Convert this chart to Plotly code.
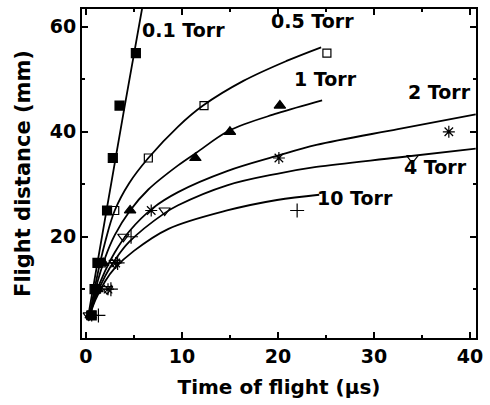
import plotly.graph_objects as go

# Measured points (time of flight in us, flight distance in mm)
p01_t = [0.6, 0.9, 1.2, 2.2, 2.8, 3.5, 5.2]
p01_d = [5, 10, 15, 25, 35, 45, 55]
p05_t = [0.5, 1.1, 1.6, 3.0, 6.5, 12.3, 25.1]
p05_d = [5, 10, 15, 25, 35, 45, 55]
p1_t = [0.5, 1.2, 1.8, 4.6, 11.4, 15.0, 20.2]
p1_d = [5, 10, 15, 25, 35, 40, 45]
p2_t = [0.6, 2.3, 3.1, 6.8, 20.1, 37.8]
p2_d = [5, 10, 15, 25, 35, 40]
p4_t = [0.3, 2.2, 3.0, 3.9, 8.2, 34.0]
p4_d = [5, 10, 15, 20, 25, 35]
p10_t = [1.3, 2.6, 3.3, 4.7, 22.0]
p10_d = [5, 10, 15, 20, 25]

# Fitted curves
f01_t = [0.25, 2.0, 4.0, 5.9]
f01_d = [5, 23.5, 44.5, 64]
f05_t = [0.4, 1.0, 2.0, 3.0, 4.5, 6.5, 9.6, 12.2, 16.4, 20.9, 24.5]
f05_d = [5, 11, 19, 25, 30.2, 35, 41, 45, 49.7, 53.5, 56.1]
f1_t = [0.4, 1.0, 2.0, 3.0, 4.6, 6.5, 9.6, 11.5, 14.9, 19.9, 24.6]
f1_d = [5, 10, 16, 20.3, 25, 29, 33.6, 36, 40.2, 43.5, 46]
f2_t = [0.4, 1.0, 2.0, 3.0, 4.5, 7.0, 9.6, 14.7, 19.9, 24, 32.5, 40.6]
f2_d = [5, 9, 13.5, 17, 21, 25.5, 28.5, 32.5, 35.4, 37.5, 40.5, 43.3]
f4_t = [0.4, 1.0, 2.0, 3.0, 4.5, 8.2, 9.6, 14.7, 19.9, 24, 32.5, 40.6]
f4_d = [5, 8.5, 12.5, 15.5, 19, 24.5, 26, 29.8, 32, 33.3, 35.1, 36.8]
f10_t = [0.4, 1.0, 2.0, 3.0, 5.0, 8.6, 14.7, 19.9, 24.3]
f10_d = [5, 8, 11.5, 14, 17.3, 21.5, 25, 27, 28]

labels = ["0.1 Torr", "0.5 Torr", "1 Torr", "2 Torr", "4 Torr", "10 Torr"]
label_x = [10.2, 23.6, 25.0, 36.8, 36.4, 28.0]
label_y = [59.4, 61.1, 50.1, 47.5, 33.2, 27.3]

FONT = "DejaVu Sans"
fig = go.Figure()

for ft, fd in [(f01_t, f01_d), (f05_t, f05_d), (f1_t, f1_d), (f2_t, f2_d), (f4_t, f4_d), (f10_t, f10_d)]:
    fig.add_trace(go.Scatter(x=ft, y=fd, mode="lines", line=dict(color="black", width=1.8, shape="spline", smoothing=1),
                             showlegend=False, hoverinfo="skip"))

markers = [
    (p01_t, p01_d, "square", 9),
    (p05_t, p05_d, "square-open", 8),
    (p1_t, p1_d, "triangle-up", 10),
    (p2_t, p2_d, "asterisk-open", 10),
    (p4_t, p4_d, "triangle-down-open", 10),
    (p10_t, p10_d, "cross-thin-open", 10),
]
for t, d, sym, sz in markers:
    fig.add_trace(go.Scatter(x=t, y=d, mode="markers",
                             marker=dict(symbol=sym, size=sz, color="black", line=dict(color="black", width=1.2)),
                             showlegend=False))

for txt, x, y in zip(labels, label_x, label_y):
    fig.add_annotation(x=x, y=y, text="<b>" + txt + "</b>", showarrow=False,
                       font=dict(family=FONT, size=19, color="black"), xanchor="center", yanchor="middle")

axis_common = dict(showline=True, linecolor="black", linewidth=2, mirror="allticks", ticks="inside",
                   ticklen=6, tickwidth=1.5, tickcolor="black", showgrid=False, zeroline=False,
                   tickfont=dict(family=FONT, size=19, color="black"))
fig.update_xaxes(range=[-0.41, 40.63], tickvals=[0, 10, 20, 30, 40], ticktext=["<b>0</b>", "<b>10</b>", "<b>20</b>", "<b>30</b>", "<b>40</b>"],
                 minor=dict(tickvals=[5, 15, 25, 35], ticks="inside", ticklen=3, tickcolor="black", tickwidth=1.5),
                 title=dict(text="<b>Time of flight (µs)</b>", font=dict(family=FONT, size=20, color="black"), standoff=14),
                 **axis_common)
fig.update_yaxes(range=[0.7, 63.4], tickvals=[20, 40, 60], ticktext=["<b>20</b>", "<b>40</b>", "<b>60</b>"],
                 minor=dict(tickvals=[10, 30, 50], ticks="inside", ticklen=3, tickcolor="black", tickwidth=1.5),
                 title=dict(text="<b>Flight distance (mm)</b>", font=dict(family=FONT, size=21, color="black"), standoff=13),
                 **axis_common)

fig.update_layout(width=490, height=405, margin=dict(l=82, r=7, t=8, b=67),
                  plot_bgcolor="white", paper_bgcolor="white")
fig.write_html("out.html")
